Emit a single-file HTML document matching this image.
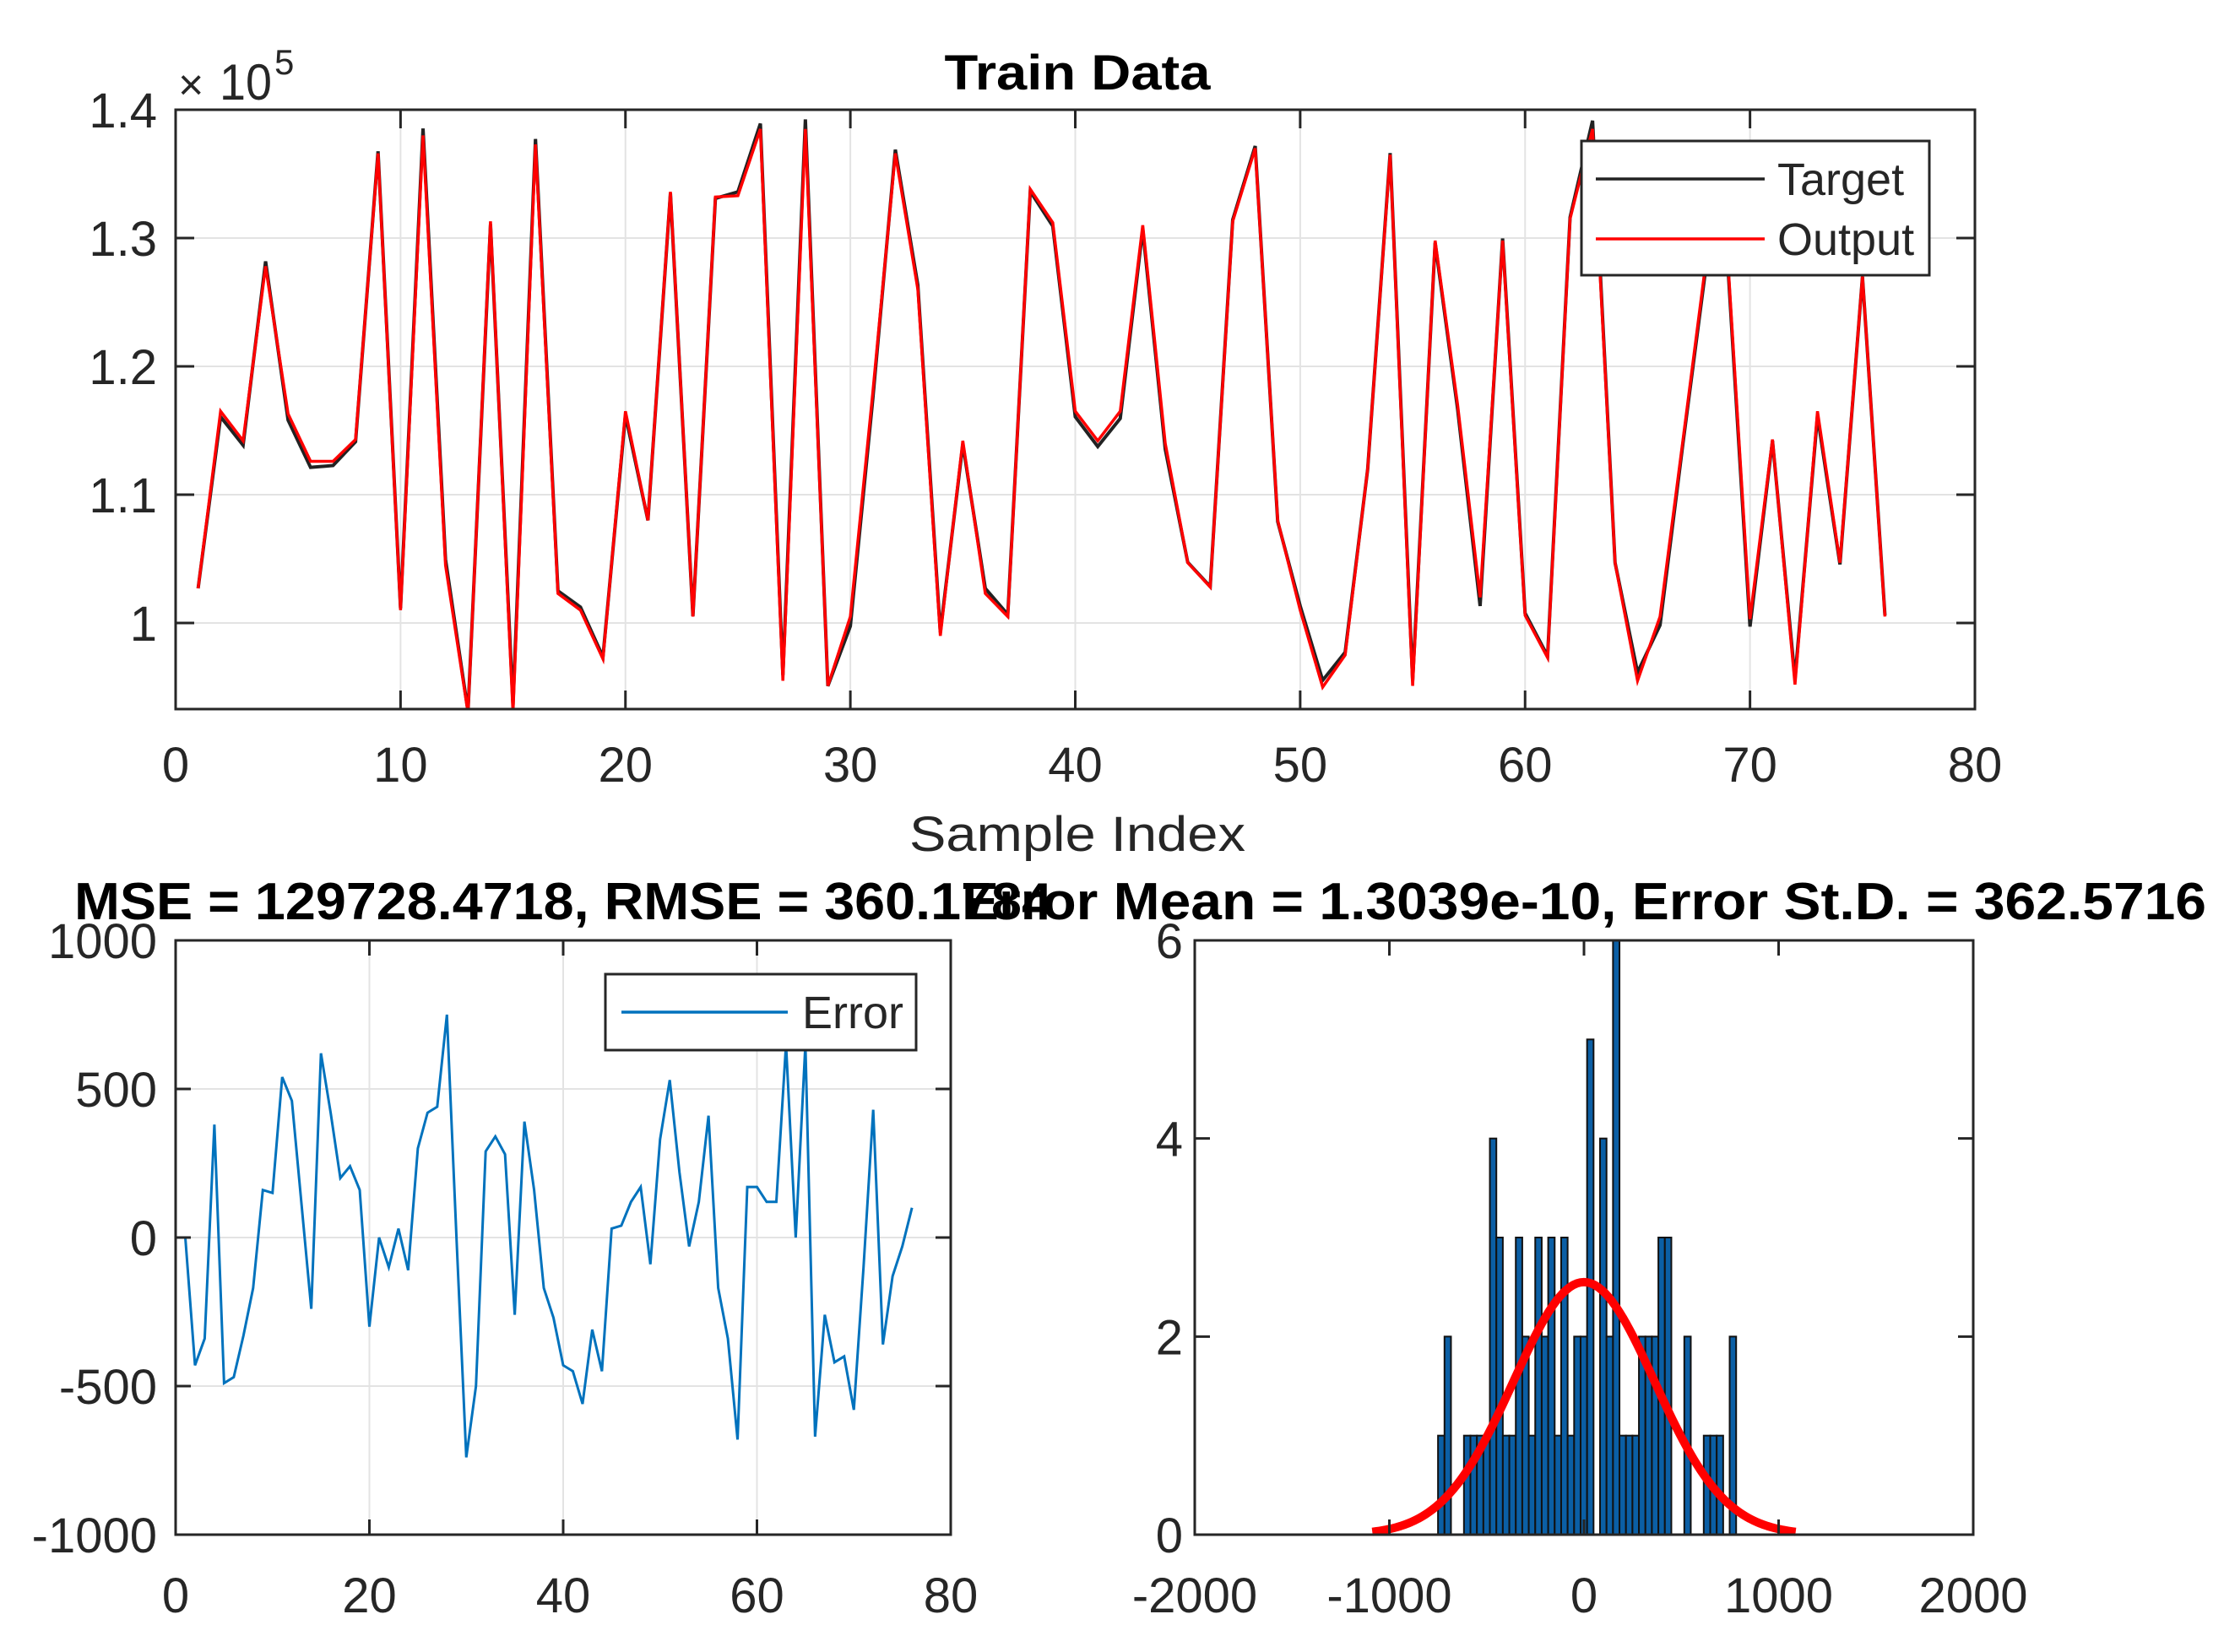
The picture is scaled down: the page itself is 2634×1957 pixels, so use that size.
<!DOCTYPE html>
<html><head><meta charset="utf-8">
<style>
html,body{margin:0;padding:0;background:#fff;}
svg{display:block;}
text{font-family:"Liberation Sans",Arial,sans-serif;fill:#262626;}
.tk{font-size:58px;}
.ttl{font-weight:bold;fill:#000;}
</style></head>
<body>
<svg id="fig" width="2634" height="1957" viewBox="0 0 2634 1957" xmlns="http://www.w3.org/2000/svg">
<rect width="2634" height="1957" fill="#fff"/>
<g id="g1"></g>
<g id="g2"></g>
<g id="g3"></g>
</svg>
<script>
// ---- data ----
const outputVals = [1.027,1.165,1.142,1.278,1.163,1.126,1.126,1.143,1.366,1.010,
1.380,1.045,0.930,1.313,0.930,1.373,1.023,1.010,0.972,1.165,
1.080,1.336,1.005,1.332,1.333,1.385,0.955,1.385,0.951,1.005,
1.180,1.366,1.260,0.990,1.142,1.023,1.005,1.338,1.312,1.165,
1.142,1.165,1.310,1.140,1.047,1.028,1.313,1.370,1.080,1.010,
0.950,0.975,1.120,1.365,0.951,1.298,1.170,1.020,1.298,1.006,
0.973,1.315,1.385,1.047,0.955,1.005,1.140,1.276,1.287,1.003,
1.143,0.952,1.165,1.047,1.270,1.005];
const errorVals = [0,-430,-340,380,-490,-470,-330,-170,160,150,
540,460,110,-240,620,420,200,240,160,-300,
0,-100,30,-110,300,420,440,750,-10,-740,
-500,290,340,280,-260,390,160,-170,-270,-430,
-450,-560,-310,-450,30,40,120,170,-90,330,
530,220,-30,120,410,-170,-340,-680,170,170,
120,120,650,0,650,-670,-260,-420,-400,-580,
-100,430,-360,-130,-30,100];
const histCounts = [1,2,0,0,1,1,1,1,4,3,1,1,3,2,1,3,2,3,1,3,1,2,2,5,0,4,2,6,1,1,1,2,2,2,3,3,0,0,2,0,0,1,1,1,0,2];
const histStart = -750;
const histBinWidth = 33.3;
const errMean = 0.0000000001304;
const errStd = 362.5716;
const fitPeak = 2.55;
const topXTicks = [0,10,20,30,40,50,60,70,80];
const topYTicks = [1,1.1,1.2,1.3,1.4];
const topYLabels = ["1","1.1","1.2","1.3","1.4"];
const errXTicks = [0,20,40,60,80];
const errYTicks = [-1000,-500,0,500,1000];
const histXTicks = [-2000,-1000,0,1000,2000];
const histYTicks = [0,2,4,6];

const NS="http://www.w3.org/2000/svg";
function mk(parent,tag,attrs,txt){const e=document.createElementNS(NS,tag);for(const k in attrs)e.setAttribute(k,attrs[k]);if(txt!==undefined)e.textContent=txt;parent.appendChild(e);return e;}
function scale(d0,d1,p0,p1){return v=>p0+(v-d0)/(d1-d0)*(p1-p0);}

// ===== Top chart =====
const g1=document.getElementById('g1');
const A1={l:208,r:2339,t:130,b:840};
const x1=scale(0,80,A1.l,A1.r), y1=scale(1.0,1.4,738,A1.t);
topXTicks.forEach(v=>{ if(v>0&&v<80){const gl=mk(g1,'line',{x1:x1(v),x2:x1(v),y1:A1.t,y2:A1.b,stroke:'#e3e3e3','stroke-width':2});

}});
topYTicks.forEach(v=>{ if(v<1.4){const gl=mk(g1,'line',{x1:A1.l,x2:A1.r,y1:y1(v),y2:y1(v),stroke:'#e3e3e3','stroke-width':2});

}});
const defs=mk(document.getElementById('fig'),'defs',{});
const cp=mk(defs,'clipPath',{id:'c1'});mk(cp,'rect',{x:A1.l,y:A1.t,width:A1.r-A1.l,height:A1.b-A1.t});
const targetPts=outputVals.map((v,i)=>x1(i+1)+','+y1(v+errorVals[i]/1e5)).join(' ');
const outPts=outputVals.map((v,i)=>x1(i+1)+','+y1(v)).join(' ');
const tl=mk(g1,'polyline',{points:targetPts,fill:'none',stroke:'#222','stroke-width':4,'clip-path':'url(#c1)'});


const ol=mk(g1,'polyline',{points:outPts,fill:'none',stroke:'#ff0000','stroke-width':3.5,'clip-path':'url(#c1)'});


function box(g,A,name){const r=mk(g,'rect',{x:A.l,y:A.t,width:A.r-A.l,height:A.b-A.t,fill:'none',stroke:'#262626','stroke-width':3});

}
box(g1,A1,'top-axes-box');
topXTicks.forEach(v=>{const X=x1(v);
mk(g1,'line',{x1:X,x2:X,y1:A1.b,y2:A1.b-22,stroke:'#262626','stroke-width':3});
mk(g1,'line',{x1:X,x2:X,y1:A1.t,y2:A1.t+22,stroke:'#262626','stroke-width':3});
const t=mk(g1,'text',{x:X,y:926,'text-anchor':'middle',class:'tk'},String(v));

});
topYTicks.forEach((v,i)=>{const Y=y1(v);
mk(g1,'line',{x1:A1.l,x2:A1.l+22,y1:Y,y2:Y,stroke:'#262626','stroke-width':3});
mk(g1,'line',{x1:A1.r,x2:A1.r-22,y1:Y,y2:Y,stroke:'#262626','stroke-width':3});
const t=mk(g1,'text',{x:186,y:Y+21,'text-anchor':'end',class:'tk'},topYLabels[i]);

});
</script>
<script>
const g1b=document.getElementById('g1');
function lab(g,attrs,txt,name){const t=mk(g,'text',attrs,txt);

return t;}
lab(g1b,{x:1276,y:106,'text-anchor':'middle','font-size':58,class:'ttl',textLength:315,lengthAdjust:'spacingAndGlyphs'},'Train Data','chart-title');
lab(g1b,{x:1276,y:1008,'text-anchor':'middle','font-size':58,textLength:398,lengthAdjust:'spacingAndGlyphs'},'Sample Index','x-axis-title');
lab(g1b,{x:211,y:118,'font-size':52,fill:'#555'},'\u00d7','y-exponent-times');
lab(g1b,{x:260,y:118,'font-size':60,textLength:62,lengthAdjust:'spacingAndGlyphs'},'10','y-exponent');
lab(g1b,{x:325,y:88,'font-size':42},'5','y-exponent-power');
const lg=mk(g1b,'g',{});


mk(lg,'rect',{x:1873,y:167,width:412,height:159,fill:'#fff',stroke:'#262626','stroke-width':3});
mk(lg,'line',{x1:1890,x2:2090,y1:212,y2:212,stroke:'#222','stroke-width':3.5});
mk(lg,'line',{x1:1890,x2:2090,y1:283,y2:283,stroke:'#ff0000','stroke-width':3.5});
lab(lg,{x:2105,y:231,'font-size':54},'Target','legend-entry-target');
lab(lg,{x:2105,y:302,'font-size':54},'Output','legend-entry-output');

// ===== Error chart =====
const g2=document.getElementById('g2');
const A2={l:208,r:1126,t:1114,b:1818};
const x2=scale(0,80,A2.l,A2.r), y2=scale(-1000,1000,A2.b,A2.t);
errXTicks.forEach(v=>{ if(v>0&&v<80){const gl=mk(g2,'line',{x1:x2(v),x2:x2(v),y1:A2.t,y2:A2.b,stroke:'#e3e3e3','stroke-width':2});

}});
errYTicks.forEach(v=>{ if(v>-1000&&v<1000){const gl=mk(g2,'line',{x1:A2.l,x2:A2.r,y1:y2(v),y2:y2(v),stroke:'#e3e3e3','stroke-width':2});

}});
const el=mk(g2,'polyline',{points:errorVals.map((v,i)=>x2(i+1)+','+y2(v)).join(' '),fill:'none',stroke:'#0072BD','stroke-width':3});


box(g2,A2,'error-axes-box');
errXTicks.forEach(v=>{const X=x2(v);
mk(g2,'line',{x1:X,x2:X,y1:A2.b,y2:A2.b-18,stroke:'#262626','stroke-width':3});
mk(g2,'line',{x1:X,x2:X,y1:A2.t,y2:A2.t+18,stroke:'#262626','stroke-width':3});
lab(g2,{x:X,y:1910,'text-anchor':'middle',class:'tk'},String(v),'x-tick-label');});
errYTicks.forEach(v=>{const Y=y2(v);
mk(g2,'line',{x1:A2.l,x2:A2.l+18,y1:Y,y2:Y,stroke:'#262626','stroke-width':3});
mk(g2,'line',{x1:A2.r,x2:A2.r-18,y1:Y,y2:Y,stroke:'#262626','stroke-width':3});
lab(g2,{x:186,y:Y+21,'text-anchor':'end',class:'tk'},String(v),'y-tick-label');});
lab(g2,{x:667,y:1089,'text-anchor':'middle','font-size':62,class:'ttl',textLength:1158,lengthAdjust:'spacingAndGlyphs'},'MSE = 129728.4718, RMSE = 360.1784','error-title');
const lg2=mk(g2,'g',{});


mk(lg2,'rect',{x:717,y:1154,width:368,height:90,fill:'#fff',stroke:'#262626','stroke-width':3});
mk(lg2,'line',{x1:736,x2:933,y1:1199,y2:1199,stroke:'#0072BD','stroke-width':3.5});
lab(lg2,{x:950,y:1218,'font-size':54},'Error','legend-entry-error');

// ===== Histogram =====
const g3=document.getElementById('g3');
const A3={l:1415,r:2337,t:1114,b:1818};
const x3=scale(-2000,2000,A3.l,A3.r), y3=scale(0,6,A3.b,A3.t);
histCounts.forEach((c,i)=>{ if(c>0){const a=histStart+i*histBinWidth;
const r=mk(g3,'rect',{x:x3(a),y:y3(c),width:x3(a+histBinWidth)-x3(a),height:y3(0)-y3(c),fill:'#0b5fa5',stroke:'#111','stroke-width':2});

}});
const cpts=[];for(let k=0;k<=120;k++){const v=errMean-3*errStd+k*(6*errStd/120);const z=(v-errMean)/errStd;cpts.push(x3(v)+','+y3(fitPeak*Math.exp(-0.5*z*z)));}
const fc=mk(g3,'polyline',{points:cpts.join(' '),fill:'none',stroke:'#ff0000','stroke-width':10,'stroke-linejoin':'round'});


box(g3,A3,'histogram-axes-box');
histXTicks.forEach(v=>{const X=x3(v);
mk(g3,'line',{x1:X,x2:X,y1:A3.b,y2:A3.b-18,stroke:'#262626','stroke-width':3});
mk(g3,'line',{x1:X,x2:X,y1:A3.t,y2:A3.t+18,stroke:'#262626','stroke-width':3});
lab(g3,{x:X,y:1910,'text-anchor':'middle',class:'tk'},String(v),'x-tick-label');});
histYTicks.forEach(v=>{const Y=y3(v);
mk(g3,'line',{x1:A3.l,x2:A3.l+18,y1:Y,y2:Y,stroke:'#262626','stroke-width':3});
mk(g3,'line',{x1:A3.r,x2:A3.r-18,y1:Y,y2:Y,stroke:'#262626','stroke-width':3});
lab(g3,{x:1401,y:Y+21,'text-anchor':'end',class:'tk'},String(v),'y-tick-label');});
lab(g3,{x:1876,y:1089,'text-anchor':'middle','font-size':62,class:'ttl',textLength:1474,lengthAdjust:'spacingAndGlyphs'},'Error Mean = 1.3039e-10, Error St.D. = 362.5716','histogram-title');
</script>
</body></html>
